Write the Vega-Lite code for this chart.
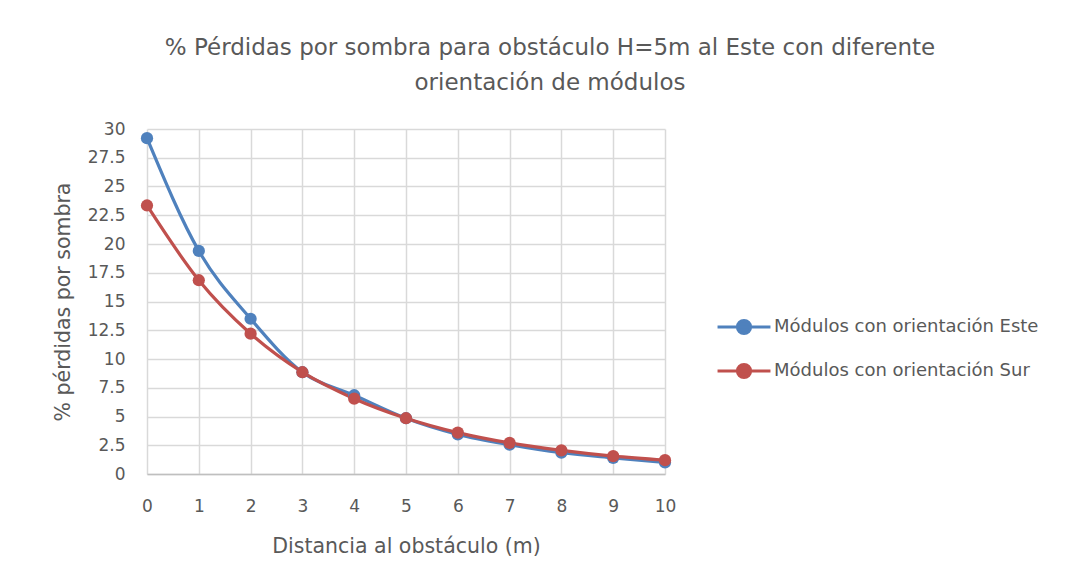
{
  "$schema": "https://vega.github.io/schema/vega-lite/v6.json",
  "width": 518,
  "height": 345,
  "autosize": {"type": "none"},
  "padding": {"left": 147, "top": 129, "right": 417, "bottom": 112},
  "background": "white",
  "config": {
    "font": "DejaVu Sans",
    "view": {"stroke": null},
    "axis": {
      "labelColor": "#595959",
      "titleColor": "#595959",
      "labelFontSize": 17,
      "titleFontSize": 20.5,
      "titleFontWeight": "normal",
      "gridColor": "#D9D9D9",
      "gridWidth": 1.5,
      "domainColor": "#BFBFBF",
      "domainWidth": 1.5,
      "ticks": false
    }
  },
  "title": {
    "text": ["% Pérdidas por sombra para obstáculo H=5m al Este con diferente", "orientación de módulos"],
    "fontSize": 23,
    "fontWeight": "normal",
    "color": "#595959",
    "anchor": "middle",
    "dx": 144,
    "offset": 25,
    "lineHeight": 35
  },
  "data": {
    "values": [
      {"d": 0, "serie": "Módulos con orientación Este", "v": 29.2},
      {"d": 1, "serie": "Módulos con orientación Este", "v": 19.4},
      {"d": 2, "serie": "Módulos con orientación Este", "v": 13.5},
      {"d": 3, "serie": "Módulos con orientación Este", "v": 8.85},
      {"d": 4, "serie": "Módulos con orientación Este", "v": 6.85},
      {"d": 5, "serie": "Módulos con orientación Este", "v": 4.85},
      {"d": 6, "serie": "Módulos con orientación Este", "v": 3.45},
      {"d": 7, "serie": "Módulos con orientación Este", "v": 2.55},
      {"d": 8, "serie": "Módulos con orientación Este", "v": 1.85},
      {"d": 9, "serie": "Módulos con orientación Este", "v": 1.4},
      {"d": 10, "serie": "Módulos con orientación Este", "v": 1.0},
      {"d": 0, "serie": "Módulos con orientación Sur", "v": 23.35},
      {"d": 1, "serie": "Módulos con orientación Sur", "v": 16.85},
      {"d": 2, "serie": "Módulos con orientación Sur", "v": 12.2},
      {"d": 3, "serie": "Módulos con orientación Sur", "v": 8.85},
      {"d": 4, "serie": "Módulos con orientación Sur", "v": 6.55},
      {"d": 5, "serie": "Módulos con orientación Sur", "v": 4.85},
      {"d": 6, "serie": "Módulos con orientación Sur", "v": 3.6},
      {"d": 7, "serie": "Módulos con orientación Sur", "v": 2.7},
      {"d": 8, "serie": "Módulos con orientación Sur", "v": 2.05},
      {"d": 9, "serie": "Módulos con orientación Sur", "v": 1.55},
      {"d": 10, "serie": "Módulos con orientación Sur", "v": 1.2}
    ]
  },
  "encoding": {
    "x": {
      "field": "d",
      "type": "quantitative",
      "scale": {"domain": [0, 10], "nice": false},
      "axis": {"values": [0,1,2,3,4,5,6,7,8,9,10], "title": "Distancia al obstáculo (m)", "labelPadding": 24, "titlePadding": 22, "labelFlush": false}
    },
    "y": {
      "field": "v",
      "type": "quantitative",
      "scale": {"domain": [0, 30], "nice": false},
      "axis": {"values": [0,2.5,5,7.5,10,12.5,15,17.5,20,22.5,25,27.5,30], "format": ".1~f", "title": "% pérdidas por sombra", "labelPadding": 22, "titlePadding": 14, "domain": false, "labelFlush": false}
    },
    "color": {
      "field": "serie",
      "type": "nominal",
      "scale": {"range": ["#4F81BD", "#C0504D"]},
      "legend": {
        "title": null,
        "orient": "none",
        "legendX": 582,
        "legendY": 183,
        "labelFontSize": 18,
        "labelColor": "#595959",
        "labelLimit": 0,
        "symbolType": "M -2 0 L 2 0 M -0.5 0 A 0.5 0.5 0 1 1 0.5 0 A 0.5 0.5 0 1 1 -0.5 0 Z",
        "symbolSize": 700,
        "symbolStrokeWidth": 3,
        "rowPadding": 16,
        "labelOffset": 15
      }
    }
  },
  "layer": [
    {"mark": {"type": "line", "interpolate": "monotone", "strokeWidth": 3.2}},
    {"mark": {"type": "point", "filled": true, "size": 150, "opacity": 1}}
  ]
}
